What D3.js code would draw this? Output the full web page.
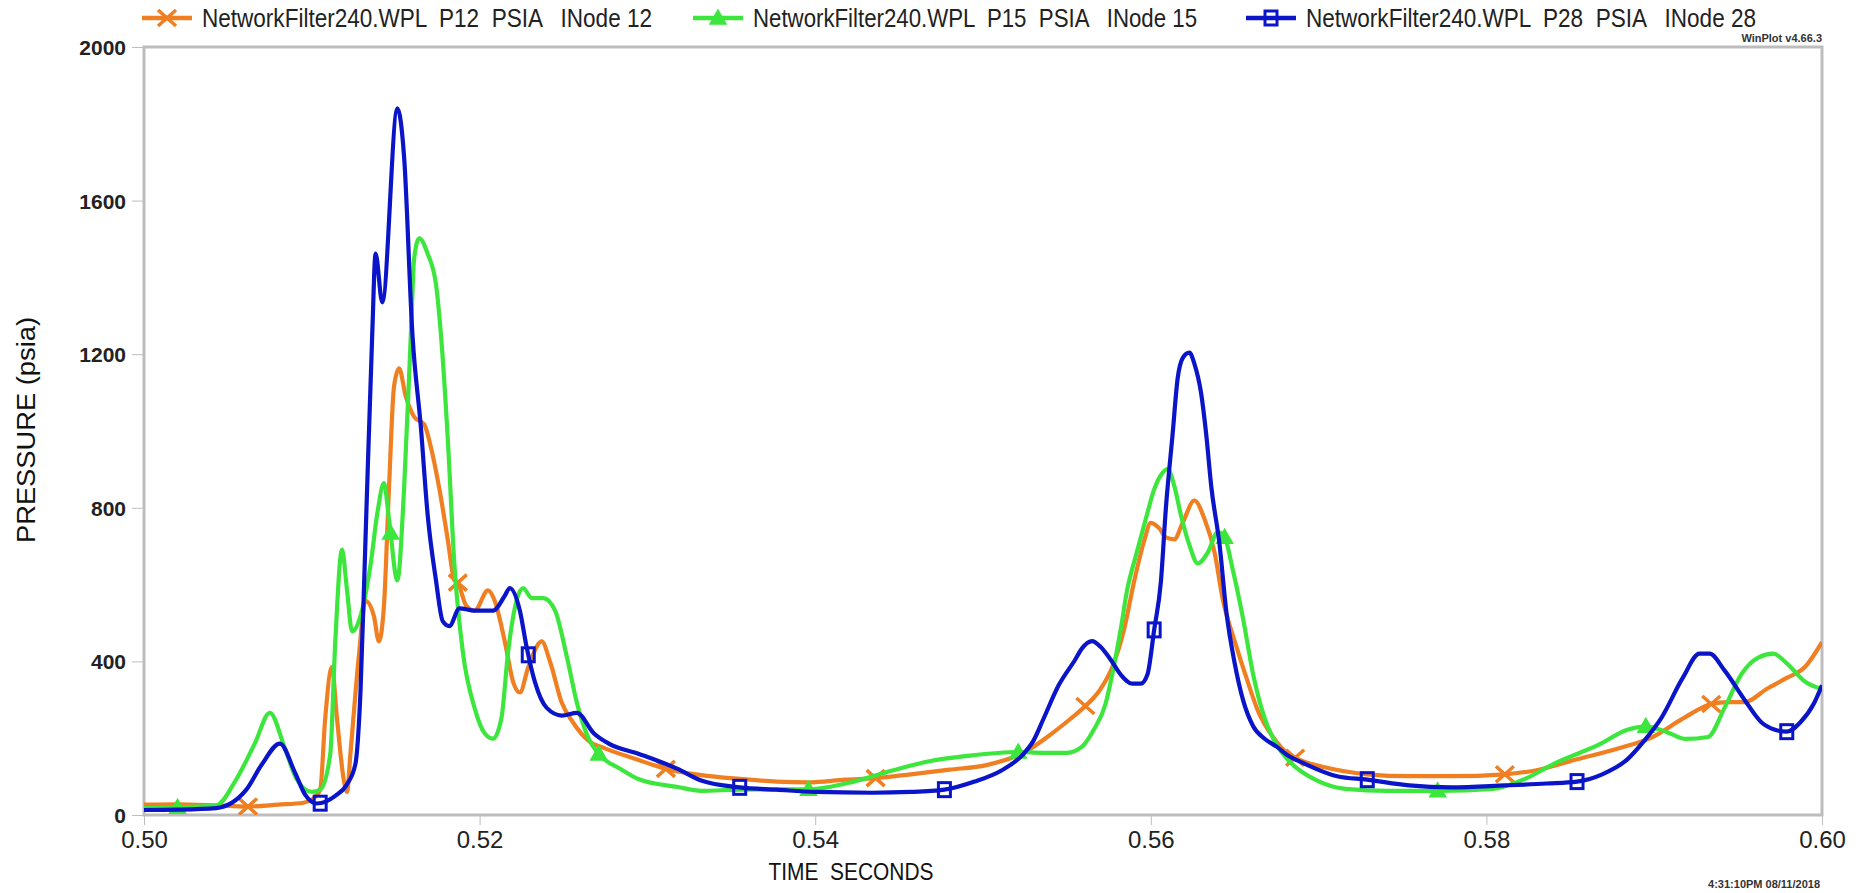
<!DOCTYPE html>
<html>
<head>
<meta charset="utf-8">
<script src="https://cdn.jsdelivr.net/npm/d3@7"></script>
<style>
  body { margin: 0; background: #fff; }
  text { font-family: "Liberation Sans", Arial, sans-serif; }
  .narrow { font-family: "Liberation Sans Narrow", "Arial Narrow", "Liberation Sans", sans-serif; }
</style>
</head>
<body>
<svg id="chart"></svg>
<script>
// Chart size
const svgWidth = 1858;
const svgHeight = 893;

// Series data: [time (s), pressure (psia)]
const p12 = [
  [0.500, 27], [0.502, 28], [0.5043, 25], [0.5061, 22], [0.5080, 27], [0.5095, 32], [0.5100, 40],
  [0.5105, 66], [0.5108, 252], [0.5112, 385], [0.5115, 252], [0.5119, 93], [0.5121, 60], [0.5123, 159],
  [0.5128, 412], [0.5132, 558], [0.5137, 518], [0.5140, 452], [0.5143, 545], [0.5146, 850], [0.5149, 1116],
  [0.5152, 1163], [0.5156, 1090], [0.5161, 1037], [0.5167, 1017], [0.5171, 957], [0.5176, 850], [0.5181, 718],
  [0.5185, 611], [0.5187, 605], [0.5192, 545], [0.5197, 532], [0.5205, 585], [0.5209, 558], [0.5215, 452],
  [0.5220, 346], [0.5224, 319], [0.5229, 385], [0.5237, 452], [0.5242, 399], [0.5249, 292], [0.5256, 239],
  [0.5265, 193], [0.5275, 173], [0.5293, 146], [0.5311, 120], [0.5332, 104], [0.5355, 94], [0.5377, 87],
  [0.5396, 85], [0.5418, 92], [0.5436, 96], [0.5457, 106], [0.5480, 118], [0.5502, 130], [0.5525, 164],
  [0.5541, 212], [0.5552, 250], [0.5561, 284], [0.5570, 328], [0.5577, 385], [0.5584, 482], [0.5590, 607],
  [0.5596, 713], [0.5600, 761], [0.5605, 747], [0.5609, 723], [0.5614, 718], [0.5619, 761], [0.5626, 819],
  [0.5632, 771], [0.5638, 684], [0.5643, 559], [0.5650, 453], [0.5657, 357], [0.5664, 270], [0.5673, 202],
  [0.5682, 159], [0.5688, 145], [0.5703, 125], [0.5729, 106], [0.5754, 101], [0.5779, 101], [0.5811, 106],
  [0.5829, 116], [0.5854, 145], [0.5879, 174], [0.5899, 203], [0.5917, 251], [0.5934, 289], [0.5944, 294],
  [0.5954, 294], [0.5967, 328], [0.5979, 357], [0.5990, 386], [0.600, 450]
];

const p15 = [
  [0.500, 18], [0.502, 20], [0.5043, 25], [0.5055, 93], [0.5066, 186], [0.5075, 266], [0.5084, 173],
  [0.5091, 93], [0.5100, 60], [0.5105, 66], [0.5111, 159], [0.5114, 452], [0.5118, 691], [0.5121, 585],
  [0.5124, 478], [0.5129, 518], [0.5135, 651], [0.5139, 784], [0.5143, 864], [0.5146, 771], [0.5151, 611],
  [0.5155, 850], [0.5159, 1249], [0.5161, 1449], [0.5164, 1502], [0.5169, 1462], [0.5174, 1382],
  [0.5177, 1249], [0.5181, 983], [0.5185, 651], [0.5190, 425], [0.5197, 279], [0.5203, 213], [0.5208, 199],
  [0.5213, 252], [0.5217, 425], [0.5222, 558], [0.5226, 591], [0.5231, 565], [0.5238, 565], [0.5245, 532],
  [0.5252, 412], [0.5258, 292], [0.5265, 199], [0.5271, 159], [0.5284, 120], [0.5295, 93], [0.5318, 73],
  [0.5332, 63], [0.5355, 66], [0.5396, 67], [0.5423, 87], [0.5446, 116], [0.5468, 140], [0.5491, 154],
  [0.5521, 164], [0.5536, 162], [0.5550, 162], [0.5559, 178], [0.5566, 222], [0.5573, 289], [0.5577, 366],
  [0.5582, 482], [0.5586, 588], [0.5591, 674], [0.5597, 771], [0.5602, 848], [0.5607, 891], [0.5610, 901],
  [0.5614, 857], [0.5618, 780], [0.5623, 703], [0.5628, 655], [0.5634, 684], [0.5640, 737], [0.5644, 723],
  [0.5649, 636], [0.5655, 511], [0.5661, 366], [0.5668, 250], [0.5675, 183], [0.5683, 138], [0.5698, 92],
  [0.5716, 68], [0.5741, 63], [0.5771, 63], [0.5804, 68], [0.5824, 96], [0.5841, 135], [0.5867, 183],
  [0.5884, 222], [0.5895, 231], [0.5907, 217], [0.5919, 198], [0.5932, 203], [0.5942, 280], [0.5952, 367],
  [0.5962, 410], [0.5971, 420], [0.5979, 395], [0.5990, 347], [0.600, 328]
];

const p28 = [
  [0.500, 13], [0.502, 14], [0.5043, 18], [0.5061, 66], [0.5070, 130], [0.5081, 186], [0.5090, 110],
  [0.5096, 53], [0.5103, 30], [0.5114, 50], [0.5121, 80], [0.5126, 133], [0.5129, 319], [0.5132, 718],
  [0.5136, 1250], [0.5138, 1462], [0.5142, 1335], [0.5151, 1840], [0.5155, 1714], [0.5160, 1249],
  [0.5165, 1010], [0.5169, 784], [0.5174, 611], [0.5178, 505], [0.5182, 492], [0.5188, 538], [0.5197, 532],
  [0.5208, 532], [0.5215, 571], [0.5218, 591], [0.5224, 532], [0.5228, 438], [0.5233, 346], [0.5240, 279],
  [0.5249, 259], [0.5258, 266], [0.5268, 213], [0.5277, 186], [0.5295, 159], [0.5318, 120], [0.5332, 90],
  [0.5355, 72], [0.5377, 66], [0.5400, 60], [0.5434, 58], [0.5457, 60], [0.5477, 66], [0.5495, 87],
  [0.5511, 116], [0.5523, 154], [0.5530, 193], [0.5536, 250], [0.5545, 337], [0.5555, 405], [0.5559, 434],
  [0.5565, 453], [0.5570, 438], [0.5576, 405], [0.5582, 366], [0.5589, 342], [0.5594, 342], [0.5598, 366],
  [0.5602, 482], [0.5606, 607], [0.5609, 800], [0.5613, 992], [0.5616, 1137], [0.5619, 1190], [0.5623, 1204],
  [0.5626, 1175], [0.5630, 1098], [0.5633, 992], [0.5636, 857], [0.5641, 703], [0.5645, 530], [0.5650, 395],
  [0.5655, 299], [0.5661, 231], [0.5668, 198], [0.5675, 178], [0.5682, 154], [0.5691, 135], [0.5711, 101],
  [0.5729, 92], [0.5754, 77], [0.5779, 72], [0.5811, 77], [0.5836, 82], [0.5854, 87], [0.5869, 106],
  [0.5884, 145], [0.5894, 193], [0.5904, 251], [0.5917, 357], [0.5927, 420], [0.5933, 420], [0.5942, 376],
  [0.5954, 299], [0.5964, 241], [0.5972, 222], [0.5979, 217], [0.5987, 241], [0.5995, 289], [0.600, 338]
];

// Marker times along each curve
const p12Marks = [0.5062, 0.5187, 0.5311, 0.5436, 0.5561, 0.5686, 0.5811, 0.5934];
const p15Marks = [0.5020, 0.5147, 0.5271, 0.5396, 0.5521, 0.5644, 0.5771, 0.5895];
const p28Marks = [0.5105, 0.5229, 0.5355, 0.5477, 0.5602, 0.5729, 0.5854, 0.5979];

// Labels and ticks
const seriesNames = [
  "NetworkFilter240.WPL  P12  PSIA   INode 12",
  "NetworkFilter240.WPL  P15  PSIA   INode 15",
  "NetworkFilter240.WPL  P28  PSIA   INode 28"
];
const xTicks = [0.50, 0.52, 0.54, 0.56, 0.58, 0.60];
const yTicks = [0, 400, 800, 1200, 1600, 2000];

const series = [
  { name: seriesNames[0], data: p12, marks: p12Marks, color: "#f07f22", symbol: "x" },
  { name: seriesNames[1], data: p15, marks: p15Marks, color: "#3ce63c", symbol: "triangle" },
  { name: seriesNames[2], data: p28, marks: p28Marks, color: "#0a14c8", symbol: "square" }
];

const svg = d3.select("#chart")
    .attr("width", svgWidth)
    .attr("height", svgHeight);

svg.append("rect").attr("width", svgWidth).attr("height", svgHeight).attr("fill", "#fff");

// Scales
const x = d3.scaleLinear().domain([0.5, 0.6]).range([144, 1822]);
const y = d3.scaleLinear().domain([0, 2000]).range([815, 47]);

const frameColor = "#bdbdbd";

// Y axis
const yAxis = svg.append("g")
    .attr("transform", `translate(${x(0.5)},0)`)
    .call(d3.axisLeft(y).tickValues(yTicks).tickSize(12).tickPadding(6).tickFormat(d3.format("d")));
yAxis.select(".domain").remove();
yAxis.selectAll(".tick line").attr("stroke", frameColor).attr("stroke-width", 1);
yAxis.selectAll(".tick text")
    .attr("fill", "#222")
    .style("font-size", "21px")
    .style("font-weight", "bold")
    .attr("dy", "0.36em");

// X axis
const xAxis = svg.append("g")
    .attr("transform", `translate(0,${y(0)})`)
    .call(d3.axisBottom(x).tickValues(xTicks).tickSize(10).tickPadding(6).tickFormat(d3.format(".2f")));
xAxis.select(".domain").remove();
xAxis.selectAll(".tick line").attr("stroke", frameColor).attr("stroke-width", 1);
xAxis.selectAll(".tick text")
    .attr("class", "narrow")
    .attr("fill", "#222")
    .style("font-size", "24px");

// Plot frame
svg.append("rect")
    .attr("x", x(0.5))
    .attr("y", y(2000))
    .attr("width", x(0.6) - x(0.5))
    .attr("height", y(0) - y(2000))
    .attr("fill", "none")
    .attr("stroke", frameColor)
    .attr("stroke-width", 3);

// Axis titles
svg.append("text")
    .attr("class", "narrow")
    .attr("x", 851)
    .attr("y", 880)
    .attr("text-anchor", "middle")
    .attr("textLength", 165)
    .attr("lengthAdjust", "spacingAndGlyphs")
    .style("white-space", "pre")
    .style("font-size", "24px")
    .attr("fill", "#111")
    .text("TIME  SECONDS");

svg.append("text")
    .attr("transform", "translate(35,430) rotate(-90)")
    .attr("text-anchor", "middle")
    .attr("textLength", 226)
    .attr("lengthAdjust", "spacingAndGlyphs")
    .style("font-size", "25px")
    .attr("fill", "#111")
    .text("PRESSURE (psia)");

// Small stamps
svg.append("text")
    .attr("x", 1822).attr("y", 42)
    .attr("text-anchor", "end")
    .style("font-size", "11px").style("font-weight", "bold")
    .attr("fill", "#333")
    .text("WinPlot v4.66.3");

svg.append("text")
    .attr("x", 1820).attr("y", 888)
    .attr("text-anchor", "end")
    .style("font-size", "11px").style("font-weight", "bold")
    .attr("fill", "#333")
    .text("4:31:10PM 08/11/2018");

// Marker drawing
function drawSymbol(g, type, cx, cy, color) {
  if (type === "x") {
    g.append("path")
        .attr("d", `M${cx - 9},${cy - 8}L${cx + 9},${cy + 8}M${cx - 9},${cy + 8}L${cx + 9},${cy - 8}`)
        .attr("stroke", color).attr("stroke-width", 3.5).attr("fill", "none");
  } else if (type === "triangle") {
    g.append("path")
        .attr("d", `M${cx},${cy - 8}L${cx + 8},${cy + 6}L${cx - 8},${cy + 6}Z`)
        .attr("fill", color).attr("stroke", color).attr("stroke-width", 1.5);
  } else {
    g.append("rect")
        .attr("x", cx - 6).attr("y", cy - 7).attr("width", 12).attr("height", 14)
        .attr("fill", "none").attr("stroke", color).attr("stroke-width", 3);
  }
}

// Find y on a rendered path for a given x
function yOnPath(node, px) {
  let lo = 0, hi = node.getTotalLength();
  for (let i = 0; i < 40; i++) {
    const mid = (lo + hi) / 2;
    if (node.getPointAtLength(mid).x < px) lo = mid; else hi = mid;
  }
  return node.getPointAtLength((lo + hi) / 2).y;
}

svg.append("clipPath").attr("id", "plot-clip")
  .append("rect")
    .attr("x", x(0.5)).attr("y", y(2000))
    .attr("width", x(0.6) - x(0.5)).attr("height", y(0) - y(2000));

const line = d3.line()
    .x(d => x(d[0]))
    .y(d => y(d[1]))
    .curve(d3.curveMonotoneX);

const plot = svg.append("g").attr("clip-path", "url(#plot-clip)");

series.forEach(s => {
  const path = plot.append("path")
      .datum(s.data)
      .attr("fill", "none")
      .attr("stroke", s.color)
      .attr("stroke-width", 4.2)
      .attr("stroke-linejoin", "round")
      .attr("d", line);
  const node = path.node();
  s.marks.forEach(t => {
    const px = x(t);
    drawSymbol(plot, s.symbol, px, yOnPath(node, px), s.color);
  });
});

// Legend
const legendX = [142, 693, 1246];
const legendW = [450, 444, 450];
series.forEach((s, i) => {
  const g = svg.append("g");
  const x0 = legendX[i];
  g.append("line")
      .attr("x1", x0).attr("x2", x0 + 50)
      .attr("y1", 18).attr("y2", 18)
      .attr("stroke", s.color).attr("stroke-width", 4.5);
  drawSymbol(g, s.symbol, x0 + 25, 18, s.color);
  g.append("text")
      .attr("class", "narrow")
      .attr("x", x0 + 60)
      .attr("y", 27)
      .attr("textLength", legendW[i])
      .attr("lengthAdjust", "spacingAndGlyphs")
      .style("white-space", "pre")
      .style("font-size", "25px")
      .attr("fill", "#222")
      .text(s.name);
});
</script>
</body>
</html>
